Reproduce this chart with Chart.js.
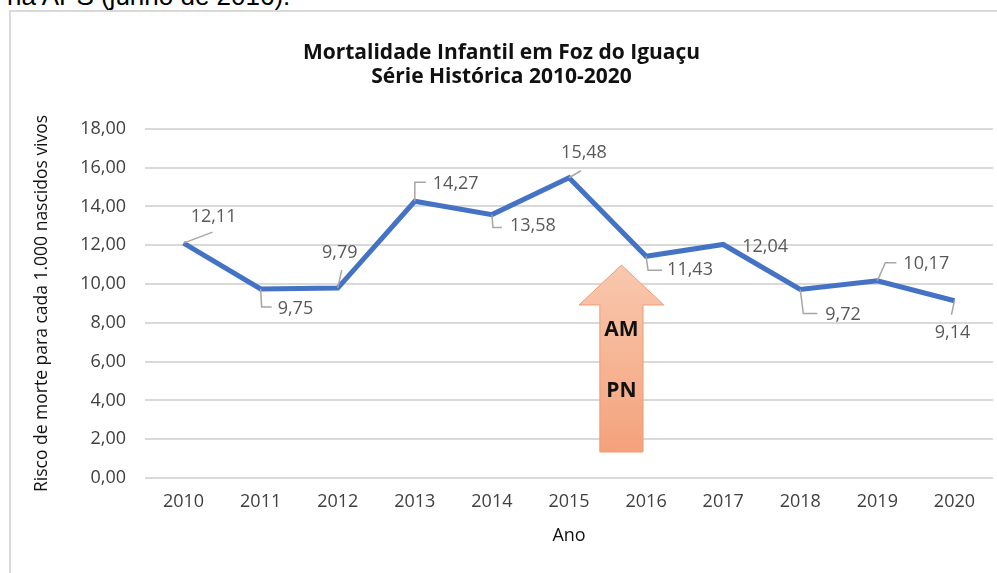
<!DOCTYPE html>
<html>
<head>
<meta charset="utf-8">
<script src="https://cdn.jsdelivr.net/npm/chart.js@4.4.1/dist/chart.umd.min.js"></script>
<style>
body{margin:0;background:#fff;width:997px;height:573px;overflow:hidden;position:relative;font-family:"Open Sans"}
#topText{position:absolute;left:7px;top:-17px;font:26px/26px "Liberation Sans",Arial,sans-serif;color:#000;white-space:nowrap}
#frame{position:absolute;left:9px;top:10px;width:1000px;height:600px;border-left:2px solid #d9d9d9;border-top:2px solid #d9d9d9}
#wrap{position:absolute;left:0;top:0;width:997px;height:573px}
</style>
</head>
<body>
<div id="topText">na APS (junho de 2016).</div>
<div id="frame"></div>
<div id="wrap"><canvas id="mortChart" width="997" height="573"></canvas></div>
<script>
// dados
const years = ['2010','2011','2012','2013','2014','2015','2016','2017','2018','2019','2020'];
const mortality = [12.11, 9.75, 9.79, 14.27, 13.58, 15.48, 11.43, 12.04, 9.72, 10.17, 9.14];
const chartTitle = ['Mortalidade Infantil em Foz do Iguaçu', 'Série Histórica 2010-2020'];
const yAxisTitle = 'Risco de morte para cada 1.000 nascidos vivos';
const xAxisTitle = 'Ano';
const arrowLabels = ['AM', 'PN'];

// posição dos rótulos (px relativos ao ponto) e linhas de chamada
const labelPos = [
    {dx: 30, dy: -26, align: 'center', leader: [[0,0],[29,-11]]},
    {dx: 17, dy: 20, align: 'left', leader: [[0,0],[1,18],[11,18]]},
    {dx: 2, dy: -35, align: 'center', leader: [[0,0],[4,-18]]},
    {dx: 18, dy: -17, align: 'left', leader: [[0,0],[0,-19],[11,-19]]},
    {dx: 18, dy: 11, align: 'left', leader: [[0,0],[1,13],[10,13]]},
    {dx: 15, dy: -25, align: 'center', leader: [[0,0],[12,-7]]},
    {dx: 21, dy: 14, align: 'left', leader: [[0,0],[2,14],[16,14]]},
    {dx: 19, dy: 2, align: 'left', leader: null},
    {dx: 25, dy: 25, align: 'left', leader: [[0,0],[3,24],[17,24]]},
    {dx: 26, dy: -17, align: 'left', leader: [[0,0],[8,-18],[19,-18]]},
    {dx: -2, dy: 32, align: 'center', leader: [[0,0],[-3,14]]}
];

const fmt = v => v.toFixed(2).replace('.', ',');

// rótulos de dados
const pointLabels = {
    id: 'pointLabels',
    afterDatasetsDraw(chart) {
        const ctx = chart.ctx;
        const meta = chart.getDatasetMeta(0);
        ctx.save();
        meta.data.forEach((pt, i) => {
            const o = labelPos[i];
            if (o.leader) {
                ctx.beginPath();
                ctx.strokeStyle = '#a6a6a6';
                ctx.lineWidth = 1.5;
                o.leader.forEach((p, k) => {
                    if (k === 0) ctx.moveTo(pt.x + p[0], pt.y + p[1]);
                    else ctx.lineTo(pt.x + p[0], pt.y + p[1]);
                });
                ctx.stroke();
            }
            ctx.fillStyle = '#595959';
            ctx.font = '18px "Open Sans"';
            ctx.textAlign = o.align;
            ctx.textBaseline = 'middle';
            ctx.fillText(fmt(mortality[i]), pt.x + o.dx, pt.y + o.dy);
        });
        ctx.restore();
    }
};

// seta AM / PN
const arrowPlugin = {
    id: 'arrowPlugin',
    afterDatasetsDraw(chart) {
        const {ctx, scales: {x, y}} = chart;
        const step = x.getPixelForValue(1) - x.getPixelForValue(0);
        const cx = x.getPixelForValue(5) + 0.68 * step;
        const headW = 1.1 * step / 2;
        const shaftW = 0.56 * step / 2;
        const tip = y.getPixelForValue(10.98);
        const neck = y.getPixelForValue(8.92);
        const base = y.getPixelForValue(1.34);
        ctx.save();
        const grad = ctx.createLinearGradient(0, tip, 0, base);
        grad.addColorStop(0, '#f9c8ae');
        grad.addColorStop(1, '#f4a27c');
        ctx.beginPath();
        ctx.moveTo(cx, tip);
        ctx.lineTo(cx + headW, neck);
        ctx.lineTo(cx + shaftW, neck);
        ctx.lineTo(cx + shaftW, base);
        ctx.lineTo(cx - shaftW, base);
        ctx.lineTo(cx - shaftW, neck);
        ctx.lineTo(cx - headW, neck);
        ctx.closePath();
        ctx.fillStyle = grad;
        ctx.fill();
        ctx.strokeStyle = '#f29b70';
        ctx.lineWidth = 1;
        ctx.stroke();
        ctx.fillStyle = '#111';
        ctx.font = 'bold 21px "Open Sans"';
        ctx.textAlign = 'center';
        ctx.textBaseline = 'middle';
        ctx.fillText(arrowLabels[0], cx, y.getPixelForValue(7.65));
        ctx.fillText(arrowLabels[1], cx, y.getPixelForValue(4.5));
        ctx.restore();
    }
};

const ctx = document.getElementById('mortChart').getContext('2d');
const mortChart = new Chart(ctx, {
    type: 'line',
    data: {
        labels: years,
        datasets: [{
            label: 'Mortalidade',
            data: mortality,
            borderColor: '#4472c4',
            borderWidth: 5,
            pointRadius: 0,
            tension: 0,
            fill: false
        }]
    },
    options: {
        responsive: false,
        animation: false,
        layout: {padding: {left: 10, right: 4, top: 0, bottom: 26}},
        plugins: {
            legend: {display: false},
            tooltip: {enabled: false},
            title: {
                display: true,
                text: chartTitle,
                color: '#111',
                font: {family: 'Open Sans', size: 21, weight: 'bold', lineHeight: 1.14},
                padding: {top: 41, bottom: 40}
            }
        },
        scales: {
            x: {
                offset: true,
                grid: {display: false, drawTicks: false},
                border: {display: false},
                ticks: {color: '#404040', font: {family: 'Open Sans', size: 18}, padding: 13, maxRotation: 0},
                title: {display: true, text: xAxisTitle, color: '#111', font: {family: 'Open Sans', size: 18}, padding: {top: 16, bottom: 0}},
                afterFit(scale) { scale.height = 69; }
            },
            y: {
                min: 0,
                max: 18,
                grid: {color: '#d9d9d9', lineWidth: 2, drawTicks: false},
                border: {display: false},
                ticks: {stepSize: 2, color: '#404040', font: {family: 'Open Sans', size: 18}, padding: 19, callback: v => fmt(v)},
                title: {display: true, text: yAxisTitle, color: '#111', font: {family: 'Open Sans', size: 17.5}, padding: {top: 22, bottom: 0}},
                afterFit(scale) { scale.width = 135; }
            }
        }
    },
    plugins: [pointLabels, arrowPlugin]
});
</script>
</body>
</html>
